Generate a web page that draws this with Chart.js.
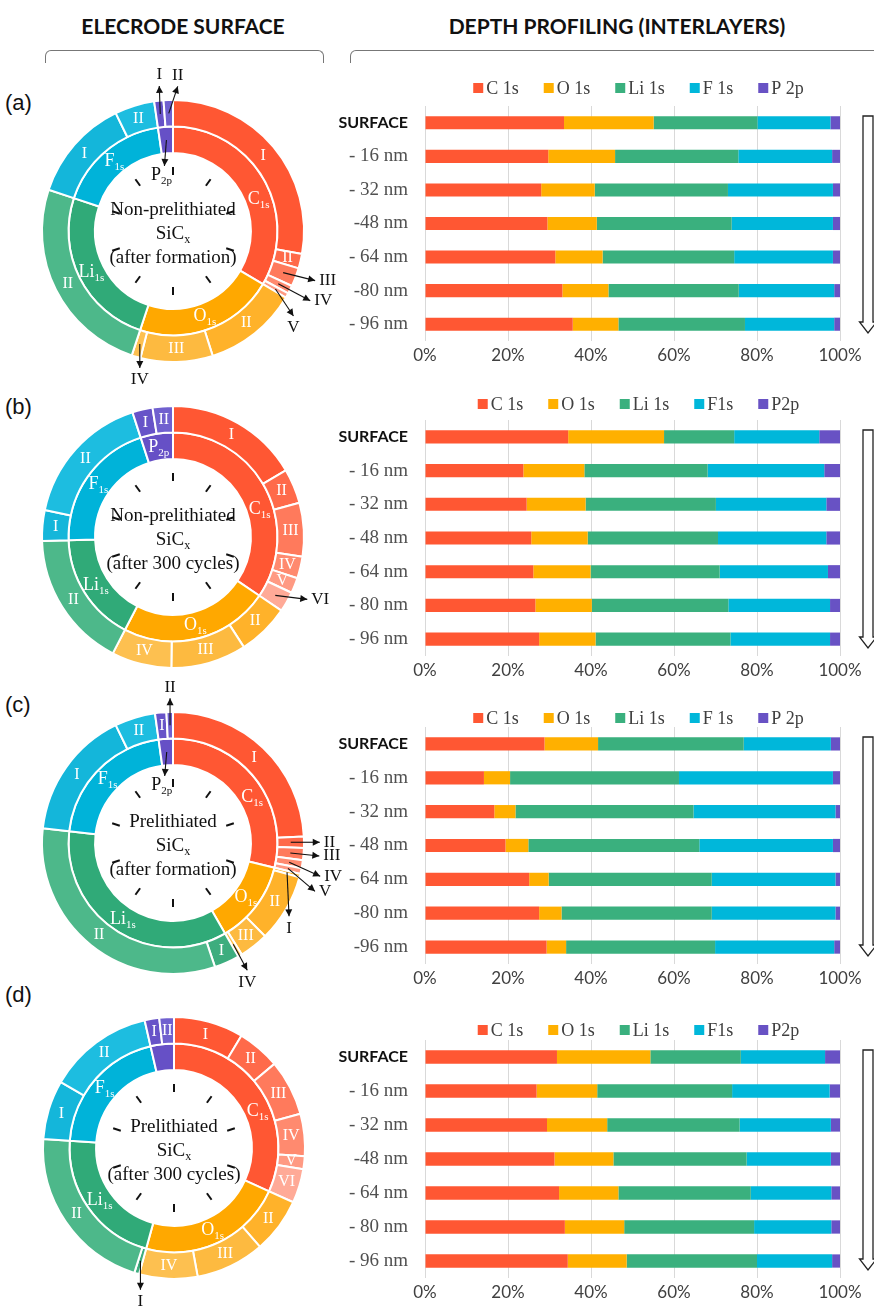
<!DOCTYPE html>
<html>
<head>
<meta charset="utf-8">
<script src="https://cdn.jsdelivr.net/npm/chart.js@4.4.1/dist/chart.umd.min.js"></script>
<style>
  html, body { margin: 0; padding: 0; background: #fff; }
  body { width: 874px; height: 1312px; position: relative; overflow: hidden; }
  canvas { position: absolute; }
  .head { position: absolute; top: 13px; font: bold 21px Lato, sans-serif; color: #111; transform: translateX(-50%); white-space: nowrap; }
  .brace { position: absolute; top: 50px; height: 12px; border: 1px solid #777; border-bottom: none; border-radius: 6px 6px 0 0; }
  .tag { position: absolute; left: 5px; font: 22px "Liberation Sans", Arial, sans-serif; color: #111; }
</style>
</head>
<body>
<div class="head" style="left:183px">ELECRODE SURFACE</div>
<div class="head" style="left:617px">DEPTH PROFILING (INTERLAYERS)</div>
<div class="brace" style="left:45px;width:277px"></div>
<div class="brace" style="left:350px;width:560px"></div>
<div class="tag" style="top:90px">(a)</div>
<div class="tag" style="top:394px">(b)</div>
<div class="tag" style="top:692px">(c)</div>
<div class="tag" style="top:982px">(d)</div>

<script>
// Depth profiles (percent of each element per layer)
const depthA = ['SURFACE', '- 16 nm', '- 32 nm', '-48 nm', '- 64 nm', '-80 nm', '- 96 nm'];
const depthB = ['SURFACE', '- 16 nm', '- 32 nm', '- 48 nm', '- 64 nm', '- 80 nm', '- 96 nm'];
const depthC = ['SURFACE', '- 16 nm', '- 32 nm', '- 48 nm', '- 64 nm', '-80 nm', '-96 nm'];
const depthD = ['SURFACE', '- 16 nm', '- 32 nm', '-48 nm', '- 64 nm', '- 80 nm', '- 96 nm'];

const legendA = ['C 1s', 'O 1s', 'Li 1s', 'F 1s', 'P 2p'];
const legendB = ['C 1s', 'O 1s', 'Li 1s', 'F1s', 'P2p'];
const legendC = ['C 1s', 'O 1s', 'Li 1s', 'F 1s', 'P 2p'];
const legendD = ['C 1s', 'O 1s', 'Li 1s', 'F1s', 'P2p'];

const c1sA = [33.5, 29.7, 28.0, 29.5, 31.4, 33.1, 35.6];
const o1sA = [21.6, 16.1, 12.9, 11.9, 11.4, 11.1, 11.0];
const li1sA = [25.0, 29.7, 32.1, 32.5, 31.7, 31.4, 30.5];
const f1sA = [17.6, 22.6, 25.3, 24.4, 23.8, 23.0, 21.5];
const p2pA = [2.3, 1.9, 1.7, 1.7, 1.7, 1.4, 1.4];

const c1sB = [34.5, 23.7, 24.5, 25.6, 26.1, 26.6, 27.5];
const o1sB = [23.1, 14.7, 14.2, 13.6, 13.8, 13.6, 13.6];
const li1sB = [16.9, 29.7, 31.4, 31.4, 31.1, 32.9, 32.5];
const f1sB = [20.5, 28.1, 26.6, 26.1, 26.1, 24.5, 24.0];
const p2pB = [5.0, 3.8, 3.3, 3.3, 2.9, 2.4, 2.4];

const c1sC = [28.8, 14.2, 16.7, 19.4, 25.1, 27.5, 29.3];
const o1sC = [12.9, 6.3, 5.1, 5.5, 4.7, 5.4, 4.7];
const li1sC = [35.1, 40.7, 42.9, 41.2, 39.3, 36.2, 35.9];
const f1sC = [21.0, 37.1, 34.2, 32.2, 29.8, 29.8, 28.7];
const p2pC = [2.2, 1.7, 1.1, 1.7, 1.1, 1.1, 1.4];

const c1sD = [31.8, 26.9, 29.4, 31.2, 32.3, 33.7, 34.4];
const o1sD = [22.5, 14.6, 14.5, 14.2, 14.3, 14.3, 14.2];
const li1sD = [21.8, 32.5, 31.9, 32.1, 31.9, 31.3, 31.4];
const f1sD = [20.3, 23.5, 22.0, 20.3, 19.4, 18.6, 18.1];
const p2pD = [3.6, 2.5, 2.2, 2.2, 2.1, 2.1, 1.9];

// Electrode surface: component split (outer ring), element = first part of the tag
const outerA = [27.8, 1.8, 2.3, 1.0, 0.6, 11.6, 8.9, 1.1, 25.0, 12.7, 4.9, 1.15, 1.15];
const outerTagsA = ['C-I', 'C-II', 'C-III', 'C-IV', 'C-V', 'O-II', 'O-III', 'O-IV', 'Li-II', 'F-I', 'F-II', 'P-I', 'P-II'];
const outerB = [16.5, 4.3, 6.6, 2.7, 1.9, 2.5, 6.4, 9.3, 7.4, 16.9, 3.8, 16.7, 2.5, 2.5];
const outerTagsB = ['C-I', 'C-II', 'C-III', 'C-IV', 'C-V', 'C-VI', 'O-II', 'O-III', 'O-IV', 'Li-II', 'F-I', 'F-II', 'P-I', 'P-II'];
const outerC = [24.2, 1.4, 1.5, 1.0, 0.7, 0.4, 8.4, 3.6, 0.5, 3.1, 32.0, 16.0, 5.0, 1.4, 0.8];
const outerTagsC = ['C-I', 'C-II', 'C-III', 'C-IV', 'C-V', 'O-I', 'O-II', 'O-III', 'O-IV', 'Li-I', 'Li-II', 'F-I', 'F-II', 'P-I', 'P-II'];
const outerD = [8.6, 5.3, 6.9, 5.2, 1.6, 4.2, 6.8, 8.5, 7.2, 0.6, 21.2, 7.3, 13.0, 1.8, 1.8];
const outerTagsD = ['C-I', 'C-II', 'C-III', 'C-IV', 'C-V', 'C-VI', 'O-II', 'O-III', 'O-IV', 'Li-I', 'Li-II', 'F-I', 'F-II', 'P-I', 'P-II'];

const elements = ['C', 'O', 'Li', 'F', 'P'];
const romans = ['I', 'II', 'III', 'IV', 'V', 'VI'];

const barColors = ['#FF5733', '#FFB000', '#3AB07E', '#00B7DA', '#6852C4'];
const innerColors = ['#FF5733', '#FFA800', '#30AA78', '#00B3D9', '#6650C6'];
const shades = {
  C: ['#FF5733', '#FF6A4A', '#FF7A5C', '#FF8A6F', '#FF9A83', '#FFAA97'],
  O: ['#FFB020', '#FFB22A', '#FDBA40', '#FDC050'],
  Li: ['#3DAD7E', '#4DB88A'],
  F: ['#14B6DA', '#1DBDE0'],
  P: ['#6753C8', '#7060CF']
};
const elemText = {
  C: [['C'], ['1s', 1]], O: [['O'], ['1s', 1]], Li: [['Li'], ['1s', 1]],
  F: [['F'], ['1s', 1]], P: [['P'], ['2p', 1]]
};
const sicx = [['SiC'], ['x', 1]];

const SERIF = '"Liberation Serif", "Times New Roman", serif';

const panels = [
  {
    cx: 173, cy: 231, areaTop: 106, areaBottom: 341, legendY: 88,
    depths: depthA, legend: legendA, series: [c1sA, o1sA, li1sA, f1sA, p2pA],
    outer: outerA, tags: outerTagsA, pMode: 'callout', pArrow: [-2, 26],
    center: [[['Non-prelithiated']], sicx, [['(after formation)']]],
    callouts: { 'C-III': [32, 8], 'C-IV': [32, 17], 'C-V': [18, 27], 'O-IV': [0, 24], 'P-I': [-1, -28], 'P-II': [9, -27] }
  },
  {
    cx: 173, cy: 537, areaTop: 420, areaBottom: 656, legendY: 404,
    depths: depthB, legend: legendB, series: [c1sB, o1sB, li1sB, f1sB, p2pB],
    outer: outerB, tags: outerTagsB, pMode: 'inside',
    center: [[['Non-prelithiated']], sicx, [['(after 300 cycles)']]],
    callouts: { 'C-VI': [32, 4] }
  },
  {
    cx: 173, cy: 843, areaTop: 727, areaBottom: 964, legendY: 718,
    depths: depthC, legend: legendC, series: [c1sC, o1sC, li1sC, f1sC, p2pC],
    outer: outerC, tags: outerTagsC, pMode: 'callout', pArrow: [-2, 24],
    center: [[['Prelithiated']], sicx, [['(after formation)']]],
    callouts: { 'C-II': [29, 0], 'C-III': [29, 3], 'C-IV': [31, 14], 'C-V': [27, 23], 'O-I': [2, 44], 'O-IV': [14, 26], 'P-II': [0, -27] }
  },
  {
    cx: 174, cy: 1148, areaTop: 1040, areaBottom: 1278, legendY: 1030,
    depths: depthD, legend: legendD, series: [c1sD, o1sD, li1sD, f1sD, p2pD],
    outer: outerD, tags: outerTagsD, pMode: 'none',
    center: [[['Prelithiated']], sicx, [['(after 300 cycles)']]],
    callouts: { 'Li-I': [0, 29] }
  }
];

// text with subscripts: parts = [[text, isSub], ...]
function drawRich(ctx, parts, x, y, size, color, align) {
  const big = size + 'px ' + SERIF;
  const small = Math.round(size * 0.62) + 'px ' + SERIF;
  let w = 0;
  parts.forEach(([t, sub]) => { ctx.font = sub ? small : big; w += ctx.measureText(t).width; });
  let xx = align === 'left' ? x : (align === 'right' ? x - w : x - w / 2);
  ctx.fillStyle = color;
  ctx.textAlign = 'left';
  ctx.textBaseline = 'middle';
  parts.forEach(([t, sub]) => {
    ctx.font = sub ? small : big;
    ctx.fillText(t, xx, sub ? y + size * 0.32 : y);
    xx += ctx.measureText(t).width;
  });
}

function arrow(ctx, x1, y1, x2, y2) {
  ctx.beginPath();
  ctx.moveTo(x1, y1);
  ctx.lineTo(x2, y2);
  ctx.stroke();
  const a = Math.atan2(y2 - y1, x2 - x1), h = 7, w = 3.5;
  ctx.beginPath();
  ctx.moveTo(x2, y2);
  ctx.lineTo(x2 - h * Math.cos(a) + w * Math.sin(a), y2 - h * Math.sin(a) - w * Math.cos(a));
  ctx.lineTo(x2 - h * Math.cos(a) - w * Math.sin(a), y2 - h * Math.sin(a) + w * Math.cos(a));
  ctx.closePath();
  ctx.fill();
}

function pointAt(arc, r, frac) {
  const a = arc.startAngle + (arc.endAngle - arc.startAngle) * frac;
  return [arc.x + r * Math.cos(a), arc.y + r * Math.sin(a)];
}

function donutDecor(p) {
  return {
    id: 'donutDecor',
    afterDraw(chart) {
      const ctx = chart.ctx;
      const outerArcs = chart.getDatasetMeta(0).data;
      const innerArcs = chart.getDatasetMeta(1).data;
      const cx = innerArcs[0].x, cy = innerArcs[0].y, hole = innerArcs[0].innerRadius;
      ctx.save();

      // clock marks inside the hole
      ctx.strokeStyle = '#111';
      ctx.lineWidth = 2;
      for (let k = 0; k < 10; k++) {
        const a = -Math.PI / 2 + k * Math.PI / 5;
        ctx.beginPath();
        ctx.moveTo(cx + (hole - 22) * Math.cos(a), cy + (hole - 22) * Math.sin(a));
        ctx.lineTo(cx + (hole - 14) * Math.cos(a), cy + (hole - 14) * Math.sin(a));
        ctx.stroke();
      }

      // centre caption
      p.center.forEach((line, i) => drawRich(ctx, line, cx, cy - 21 + i * 24, 19, '#111', 'center'));

      // outer ring: roman numerals
      ctx.lineWidth = 1.1;
      outerArcs.forEach((arc, j) => {
        const tag = p.tags[j];
        const num = tag.split('-')[1];
        const rMid = (arc.innerRadius + arc.outerRadius) / 2;
        const [x, y] = pointAt(arc, rMid, 0.5);
        const co = p.callouts[tag];
        if (co) {
          const [dx, dy] = co;
          ctx.strokeStyle = '#111';
          ctx.fillStyle = '#111';
          arrow(ctx, x, y, x + dx, y + dy);
          let lx = x + dx, ly = y + dy, align = 'center';
          if (Math.abs(dx) > Math.abs(dy)) { lx += 4; align = 'left'; }
          else if (dy > 0) ly += 12;
          else ly -= 11;
          drawRich(ctx, [[num]], lx, ly, 17, '#111', align);
        } else {
          drawRich(ctx, [[num]], x, y, 16, '#fff', 'center');
        }
      });

      // inner ring: element names (carbon label sits a little past the middle)
      innerArcs.forEach((arc, i) => {
        const el = elements[i];
        const rMid = (arc.innerRadius + arc.outerRadius) / 2;
        const [x, y] = pointAt(arc, rMid, el === 'C' ? 0.58 : 0.5);
        if (el !== 'P' || p.pMode === 'inside') {
          drawRich(ctx, elemText[el], x, y, 18, '#fff', 'center');
        } else if (p.pMode === 'callout') {
          const [dx, dy] = p.pArrow;
          ctx.strokeStyle = '#111';
          ctx.fillStyle = '#111';
          arrow(ctx, x, y, x + dx, y + dy);
          drawRich(ctx, elemText[el], x + dx - 3, y + dy + 9, 18, '#111', 'center');
        }
      });
      ctx.restore();
    }
  };
}

function makeDonut(p) {
  const canvas = document.createElement('canvas');
  canvas.width = 346;
  canvas.height = 350;
  canvas.style.left = (p.cx - 173) + 'px';
  canvas.style.top = (p.cy - 175) + 'px';
  document.body.appendChild(canvas);

  const parts = p.tags.map(t => t.split('-'));
  new Chart(canvas, {
    type: 'doughnut',
    data: {
      labels: p.tags,
      datasets: [
        {
          data: p.outer,
          backgroundColor: parts.map(([el, n]) => shades[el][romans.indexOf(n)]),
          borderColor: '#fff',
          borderWidth: 2
        },
        {
          data: p.series.map(s => s[0]),
          backgroundColor: innerColors,
          borderColor: '#fff',
          borderWidth: 2
        }
      ]
    },
    options: {
      responsive: false,
      animation: false,
      cutout: '59.5%',
      layout: { padding: { left: 41, right: 41, top: 43, bottom: 43 } },
      plugins: { legend: { display: false }, tooltip: { enabled: false } }
    },
    plugins: [donutDecor(p)]
  });
}

function barDecor(p, canvasTop) {
  return {
    id: 'barDecor',
    afterDraw(chart) {
      const ctx = chart.ctx;
      const area = chart.chartArea;
      ctx.save();

      // legend
      const font = '18px ' + SERIF;
      ctx.font = font;
      const box = 10, gapBox = 3, gapItem = 25;
      const widths = p.legend.map(t => ctx.measureText(t).width);
      const total = widths.reduce((a, b) => a + b, 0) + p.legend.length * (box + gapBox) + gapItem * (p.legend.length - 1);
      let x = (area.left + area.right) / 2 + 6 - total / 2;
      const y = p.legendY - canvasTop;
      p.legend.forEach((t, i) => {
        ctx.fillStyle = barColors[i];
        ctx.fillRect(x, y - box / 2, box, box);
        x += box + gapBox;
        ctx.fillStyle = '#404040';
        ctx.font = font;
        ctx.textAlign = 'left';
        ctx.textBaseline = 'middle';
        ctx.fillText(t, x, y + 1);
        x += widths[i] + gapItem;
      });

      // downward depth arrow
      const ax = 538, top = area.top + 10, tip = area.bottom - 8, head = tip - 11;
      ctx.beginPath();
      ctx.moveTo(ax - 5, top);
      ctx.lineTo(ax + 5, top);
      ctx.lineTo(ax + 5, head);
      ctx.lineTo(ax + 8.5, head);
      ctx.lineTo(ax, tip);
      ctx.lineTo(ax - 8.5, head);
      ctx.lineTo(ax - 5, head);
      ctx.closePath();
      ctx.fillStyle = '#fff';
      ctx.fill();
      ctx.strokeStyle = '#222';
      ctx.lineWidth = 1.3;
      ctx.stroke();
      ctx.restore();
    }
  };
}

function makeBars(p) {
  const canvasTop = p.areaTop - 40;
  const canvas = document.createElement('canvas');
  canvas.width = 544;
  canvas.height = (p.areaBottom - p.areaTop) + 40 + 30;
  canvas.style.left = '330px';
  canvas.style.top = canvasTop + 'px';
  document.body.appendChild(canvas);

  new Chart(canvas, {
    type: 'bar',
    data: {
      labels: p.depths,
      datasets: p.series.map((vals, i) => ({
        label: p.legend[i],
        data: vals,
        backgroundColor: barColors[i],
        barPercentage: 0.39,
        categoryPercentage: 1
      }))
    },
    options: {
      indexAxis: 'y',
      responsive: false,
      animation: false,
      layout: { padding: { top: 40, right: 34, left: 0, bottom: 0 } },
      scales: {
        x: {
          stacked: true,
          min: 0,
          max: 100,
          grid: { color: '#d9d9d9', drawTicks: false },
          border: { display: false },
          ticks: {
            stepSize: 20,
            padding: 4,
            color: '#404040',
            font: { family: 'Lato', size: 17 },
            callback: v => v + '%'
          },
          afterFit: s => { s.height = 30; }
        },
        y: {
          stacked: true,
          grid: { display: false, drawTicks: false },
          border: { display: false },
          ticks: {
            padding: 17,
            color: c => c.index === 0 ? '#111' : '#505050',
            font: c => c.index === 0
              ? { family: 'Lato', size: 16, weight: 'bold' }
              : { family: '"Liberation Serif"', size: 19 }
          },
          afterFit: s => { s.width = 95; }
        }
      },
      plugins: { legend: { display: false }, tooltip: { enabled: false } }
    },
    plugins: [barDecor(p, canvasTop)]
  });
}

function build() {
  panels.forEach(p => { makeDonut(p); makeBars(p); });
}

const fontLoads = ['18px "Liberation Serif"', 'bold 16px Lato', '17px Lato', '22px "Liberation Sans"']
  .map(f => document.fonts.load(f).catch(() => null));
Promise.all(fontLoads).then(build, build);
</script>
</body>
</html>
